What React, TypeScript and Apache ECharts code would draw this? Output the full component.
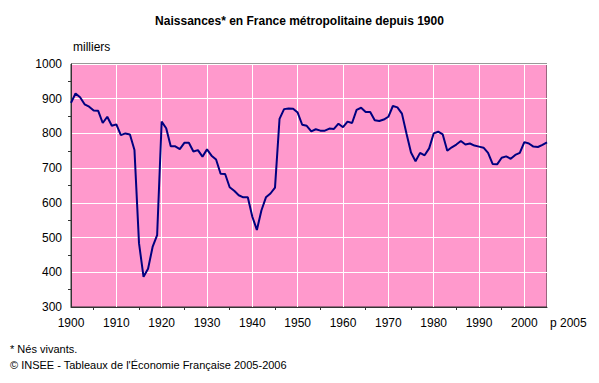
import React, { useEffect, useRef } from "react";
import * as echarts from "echarts";

const years: number[] = [];
for (let y = 1900; y <= 2005; y++) years.push(y);

const births: number[] = [
  888, 915, 904, 884, 877, 866, 865, 830, 848, 822,
  826, 795, 800, 797, 752, 484, 387, 410, 473, 507,
  834, 815, 763, 763, 755, 773, 773, 748, 752, 733,
  754, 736, 725, 684, 683, 645, 635, 622, 616, 616,
  560, 522, 578, 616, 627, 644, 842, 870, 872, 871,
  860, 825, 822, 806, 812, 808, 808, 814, 813, 828,
  818, 834, 830, 868, 874, 862, 862, 838, 836, 840,
  848, 879, 875, 857, 800, 745, 720, 744, 737, 757,
  800, 805, 797, 750, 760, 768, 778, 768, 771, 765,
  762, 759, 744, 712, 711, 730, 734, 727, 738, 744,
  775, 771, 762, 761, 767, 774,
];

const title = "Naissances* en France métropolitaine depuis 1900";
const unitLabel = "milliers";
const lastLabel = "p 2005";
const note1 = "* Nés vivants.";
const note2 = "© INSEE - Tableaux de l'Économie Française 2005-2006";

export default function App() {
  const ref = useRef<HTMLDivElement>(null);
  useEffect(() => {
    if (!ref.current) return;
    const chart = echarts.init(ref.current, null, { renderer: "svg" });
    const font = "Arial, 'Liberation Sans', sans-serif";
    chart.setOption({
      animation: false,
      backgroundColor: "#ffffff",
      textStyle: { fontFamily: font },
      title: {
        text: title,
        left: "center",
        top: 10,
        textStyle: { fontSize: 12, fontWeight: "bold", color: "#000", fontFamily: font },
      },
      grid: {
        left: 71,
        right: 52,
        top: 64,
        bottom: 76,
        show: true,
        backgroundColor: "#FF99CC",
        borderColor: "#333",
        borderWidth: 1,
      },
      xAxis: {
        type: "value",
        min: 1900,
        max: 2005,
        interval: 10,
        axisLine: { show: true, lineStyle: { color: "#333" } },
        axisTick: { show: false },
        minorTick: { show: true, splitNumber: 2, inside: true, length: 3, lineStyle: { color: "#333" } },
        splitLine: { show: true, lineStyle: { color: "#ffffff", width: 1 } },
        axisLabel: {
          color: "#000",
          fontSize: 12,
          margin: 10,
          showMaxLabel: false,
          formatter: (v: number) => (v % 10 === 0 ? String(v) : ""),
        },
      },
      yAxis: {
        type: "value",
        min: 300,
        max: 1000,
        interval: 100,
        axisLine: { show: true, lineStyle: { color: "#333" } },
        axisTick: { show: false },
        minorTick: { show: true, splitNumber: 2, inside: true, length: 3, lineStyle: { color: "#333" } },
        splitLine: { show: true, lineStyle: { color: "#ffffff", width: 1 } },
        axisLabel: { color: "#000", fontSize: 12, margin: 9, formatter: (v: number) => String(v) },
      },
      graphic: [
        { type: "text", left: 73, top: 41, style: { text: unitLabel, fontSize: 12, fill: "#000", fontFamily: font } },
        { type: "text", left: 550, top: 317, style: { text: lastLabel, fontSize: 12, fill: "#000", fontFamily: font } },
        { type: "text", left: 10, top: 343, style: { text: note1, fontSize: 11, fill: "#000", fontFamily: font } },
        { type: "text", left: 10, top: 359, style: { text: note2, fontSize: 11, fill: "#000", fontFamily: font } },
      ],
      series: [
        {
          type: "line",
          data: years.map((y, i) => [y, births[i]]),
          showSymbol: false,
          lineStyle: { color: "#000080", width: 2 },
          itemStyle: { color: "#000080" },
        },
      ],
    });
    return () => chart.dispose();
  }, []);
  return <div ref={ref} style={{ position: "fixed", left: 0, top: 0, width: 599, height: 383 }} />;
}
